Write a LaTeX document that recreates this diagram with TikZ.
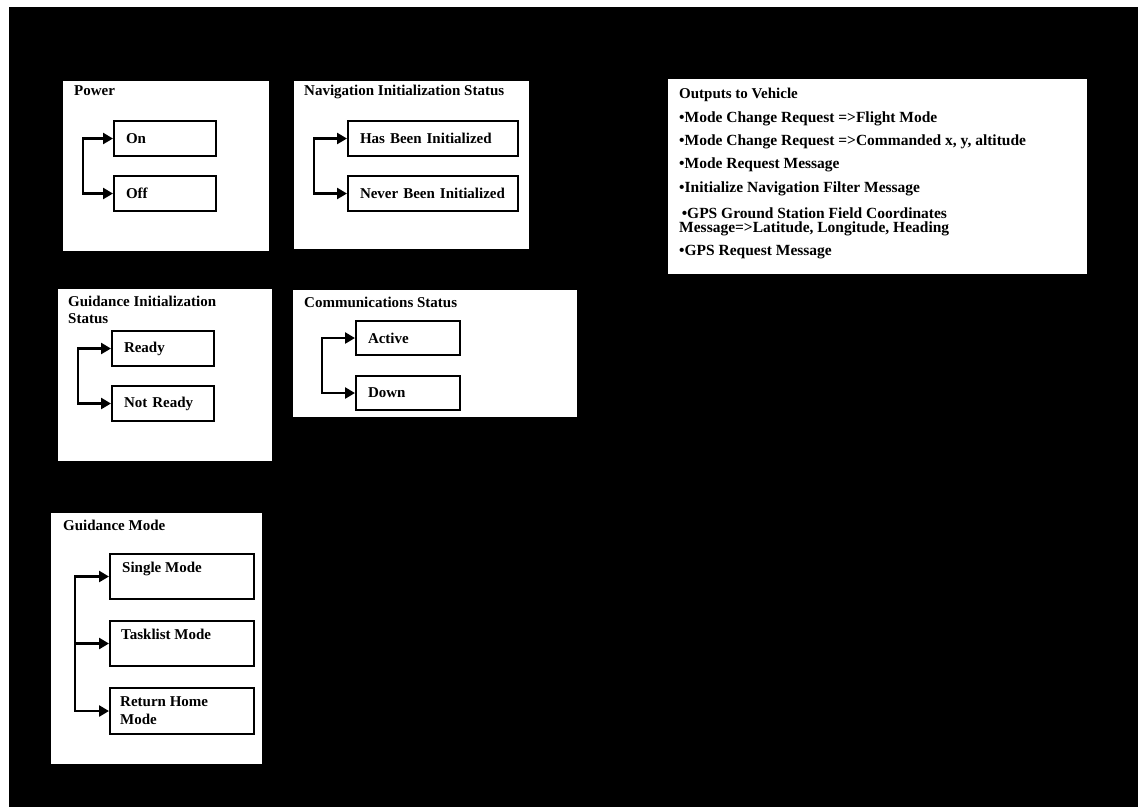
\documentclass[tikz,border=0pt]{standalone}
\usepackage{fontspec}
\setmainfont{Liberation Serif}
\usetikzlibrary{arrows.meta}
\begin{document}
\begin{tikzpicture}[x=1pt,y=-1pt,
  panel/.style={draw=black, line width=2.6pt, fill=white},
  ptitle/.style={anchor=north west, inner sep=0pt, font=\fontsize{15}{17}\selectfont\bfseries, align=left},
  option/.style={draw=black, line width=2pt, fill=white, anchor=north west,
    inner xsep=12pt, inner ysep=0pt, align=left, font=\fontsize{15}{16}\selectfont\bfseries},
  optlabel/.style={anchor=north west, inner sep=0pt, align=left, font=\fontsize{15}{18}\selectfont\bfseries},
  wire/.style={draw=black, line width=2.8pt, line cap=rect},
  twotips/.style={{Triangle[length=10pt,width=11pt]}-{Triangle[length=10pt,width=11pt]}},
  tip/.style={-{Triangle[length=10pt,width=11pt]}},
  bitem/.style={anchor=west, inner sep=0pt, align=left, font=\fontsize{15.5}{13.5}\selectfont\bfseries}
]
\useasboundingbox (0,0) rectangle (1138,807);
% page and dark backdrop
\fill[white] (0,0) rectangle (1138,807);
\fill[black] (9,7) rectangle (1138,807);

% ---- Power ----
\draw[panel] (62,80) rectangle (270,252);
\node[ptitle] (pwt) at (74,85) {Power};
\node[option, text width=78pt, minimum height=35pt] (on) at (113,120) {On};
\node[option, text width=78pt, minimum height=35pt] (off) at (113,175) {Off};
\coordinate (pws) at (83,0);
\draw[wire,twotips] (on.west) -- (on.west -| pws) -- (off.west -| pws) -- (off.west);

% ---- Navigation Initialization Status ----
\draw[panel] (293,80) rectangle (530,250);
\node[ptitle] (navt) at (304,85) {Navigation Initialization Status};
\node[option, text width=146pt, minimum height=35pt] (hbi) at (347,120) {Has Been Initialized};
\node[option, text width=146pt, minimum height=35pt] (nbi) at (347,175) {Never Been Initialized};
\coordinate (nvs) at (314,0);
\draw[wire,twotips] (hbi.west) -- (hbi.west -| nvs) -- (nbi.west -| nvs) -- (nbi.west);

% ---- Outputs to Vehicle ----
\draw[panel] (667,78) rectangle (1088,275);
\node[ptitle] (outt) at (679,88) {Outputs to Vehicle};
\node[bitem] (o1) at (679,119) {•Mode Change Request =>Flight Mode};
\node[bitem] (o2) at (679,142) {•Mode Change Request =>Commanded x, y, altitude};
\node[bitem] (o3) at (679,165) {•Mode Request Message};
\node[bitem] (o4) at (679,189) {•Initialize Navigation Filter Message};
\node[bitem] (o5) at (679,222) {\,•GPS Ground Station Field Coordinates\\Message=>Latitude, Longitude, Heading};
\node[bitem] (o6) at (679,252) {•GPS Request Message};

% ---- Guidance Initialization Status ----
\draw[panel] (57,288) rectangle (273,462);
\node[ptitle] (git) at (68,296) {Guidance Initialization\\Status};
\node[option, text width=78pt, minimum height=35pt] (rdy) at (111,330) {Ready};
\node[option, text width=78pt, minimum height=35pt] (nrdy) at (111,385) {Not Ready};
\coordinate (gis) at (78,0);
\draw[wire,twotips] (rdy.west) -- (rdy.west -| gis) -- (nrdy.west -| gis) -- (nrdy.west);

% ---- Communications Status ----
\draw[panel] (292,289) rectangle (578,418);
\node[ptitle] (cst) at (304,297) {Communications Status};
\node[option, text width=80pt, minimum height=34pt] (act) at (355,320) {Active};
\node[option, text width=80pt, minimum height=34pt] (dwn) at (355,375) {Down};
\coordinate (css) at (322,0);
\draw[wire,twotips] (act.west) -- (act.west -| css) -- (dwn.west -| css) -- (dwn.west);

% ---- Guidance Mode ----
\draw[panel] (50,512) rectangle (263,765);
\node[ptitle] (gmt) at (63,520) {Guidance Mode};
\node[option, text width=120pt, minimum height=45pt] (sgl) at (109,553) {};
\node[option, text width=120pt, minimum height=45pt] (tsk) at (109,620) {};
\node[option, text width=120pt, minimum height=46pt] (rth) at (109,687) {};
\node[optlabel] (sgll) at (122,562) {Single Mode};
\node[optlabel] (tskl) at (121,629) {Tasklist Mode};
\node[optlabel] (rthl) at (120,696) {Return Home\\Mode};
\coordinate (gms) at (75,0);
\draw[wire,twotips] (sgl.west) -- (sgl.west -| gms) -- (rth.west -| gms) -- (rth.west);
\draw[wire,tip] (tsk.west -| gms) -- (tsk.west);
\end{tikzpicture}
\end{document}
